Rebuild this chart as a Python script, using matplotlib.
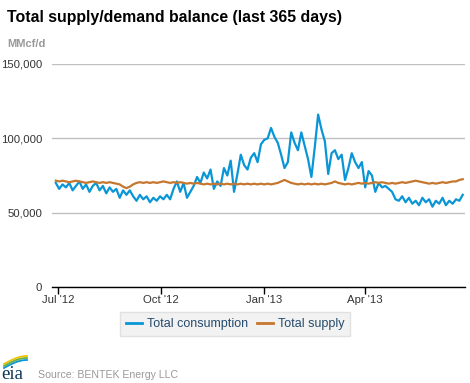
import numpy as np
import pandas as pd
import matplotlib
matplotlib.use('Agg')
import matplotlib.pyplot as plt
from matplotlib.ticker import FuncFormatter

plt.rcParams['font.family'] = ['Liberation Sans', 'DejaVu Sans']

# every third day, last 365 days (thousand MMcf/d)
dates = pd.date_range('2012-06-29', periods=122, freq='3D')

consumption = [70, 66, 69, 67, 70, 65, 68, 71, 66, 69,
               64, 68, 70, 65, 68, 63, 67, 64, 66, 60,
               65, 62, 65, 61, 58, 62, 59, 61, 57, 60,
               58, 61, 59, 62, 59, 66, 71, 64, 70, 60,
               64, 68, 74, 70, 77, 73, 79, 66, 71, 68,
               80, 75, 85, 64, 76, 89, 82, 79, 87, 90,
               84, 96, 99, 100, 107, 101, 97, 89, 80, 84,
               104, 97, 92, 104, 95, 86, 74, 94, 116, 106,
               98, 76, 90, 92, 86, 89, 72, 80, 90, 84,
               80, 84, 67, 78, 75, 64, 70, 67, 68, 66,
               64, 59, 58, 61, 57, 60, 56, 58, 55, 60,
               57, 59, 54, 58, 56, 60, 55, 58, 56, 59,
               58, 62]

supply = [71.5, 71, 71.5, 71, 70.5, 71, 71.5, 71, 70.5, 70,
          70.5, 71, 70.5, 70, 70.5, 70, 70.5, 70, 69.5, 69,
          67.5, 66.5, 67.5, 69, 70, 70.5, 70, 70.5, 70, 70.5,
          70, 70.5, 71, 70.5, 70, 70.5, 70, 70.5, 70, 69.5,
          70, 69.5, 70, 69.5, 69, 69.5, 69, 69.5, 69, 69.5,
          69, 69.5, 69, 69.5, 69, 69.5, 69, 69.5, 69, 69.5,
          69, 69.5, 69, 69.5, 69, 69.5, 70, 71, 72, 71,
          70, 69.5, 69, 69.5, 69, 69.5, 69, 69.5, 69, 69.5,
          69, 69.5, 70, 71, 70, 69.5, 69, 69.5, 69, 69.5,
          70, 69.5, 70, 69.5, 70, 70.5, 70, 70.5, 70, 69.5,
          70, 69.5, 70, 70.5, 70, 70.5, 71, 71.5, 71, 70.5,
          70, 69.5, 70, 69.5, 70, 70.5, 70, 70.5, 71, 71,
          72, 72.5]

tick_dates = ['2012-07-01', '2012-10-01', '2013-01-01', '2013-04-01']
tick_labels = ["Jul '12", "Oct '12", "Jan '13", "Apr '13"]

W, H = 470, 383
fig = plt.figure(figsize=(W / 100, H / 100), dpi=100)
ax = fig.add_axes([0.1106, 0.2507, 0.8787, 0.5822])

cons = np.array(consumption) * 1000
sup = np.array(supply) * 1000
ax.plot(dates, cons, color='#0a96d6', linewidth=1.6, label='Total consumption', zorder=3)
ax.plot(dates, sup, color='#c5772f', linewidth=1.6, label='Total supply', zorder=3)

ax.set_ylim(0, 150000)
ax.set_xlim(pd.Timestamp('2012-06-25 14:00'), pd.Timestamp('2013-06-29'))
ax.set_yticks([0, 50000, 100000, 150000])
ax.yaxis.set_major_formatter(FuncFormatter(lambda v, p: '{:,.0f}'.format(v)))
ax.grid(axis='y', color='#c0c0c0', linewidth=1)
ax.set_axisbelow(True)

ax.set_xticks(pd.to_datetime(tick_dates))
ax.set_xticklabels(tick_labels)

for s in ['top', 'right', 'left']:
    ax.spines[s].set_visible(False)
ax.spines['bottom'].set_color('#000000')
ax.spines['bottom'].set_linewidth(1)
ax.tick_params(axis='y', length=0, labelsize=8.2, labelcolor='#333333', pad=7)
ax.tick_params(axis='x', length=5, width=1, color='#000000', direction='out',
               labelsize=8.2, labelcolor='#333333', pad=1)

fig.text(0.015, 0.975, 'Total supply/demand balance (last 365 days)',
         fontsize=11.4, fontweight='bold', color='#000000', va='top', ha='left')
fig.text(0.015, 0.885, 'MMcf/d', fontsize=8, fontweight='bold', color='#999999',
         va='center', ha='left')

leg = fig.legend(loc='center', bbox_to_anchor=(0.5, 0.154), ncol=2, fontsize=9,
                 frameon=True, fancybox=False, handlelength=1.3, handletextpad=0.4,
                 columnspacing=0.7, borderpad=0.45)
leg.get_frame().set_facecolor('#efefef')
leg.get_frame().set_edgecolor('#dcdcdc')
leg.get_frame().set_linewidth(1)
for t in leg.get_texts():
    t.set_color('#274b6d')
for l in leg.get_lines():
    l.set_linewidth(2)

# eia logo: text plus three swoosh strokes
fig.text(0.003, 1 - 379 / H, 'eia', fontsize=13.5, family=['Liberation Serif', 'DejaVu Serif'],
         color='#0c3556', va='baseline', ha='left')
t = np.linspace(0, 1, 25)
for k, c in enumerate(['#f2c400', '#6cb33f', '#0a96d6']):
    px = 4 + 23 * t
    py = 364 + 2.0 * k - 8 * np.sin(t * np.pi / 2)
    fig.add_artist(plt.Line2D(px / W, 1 - py / H, color=c, linewidth=1.3,
                              transform=fig.transFigure))

fig.text(0.081, 0.008, 'Source: BENTEK Energy LLC', fontsize=7.6, color='#999999',
         va='bottom', ha='left')

fig.savefig('out.png', dpi=100)
